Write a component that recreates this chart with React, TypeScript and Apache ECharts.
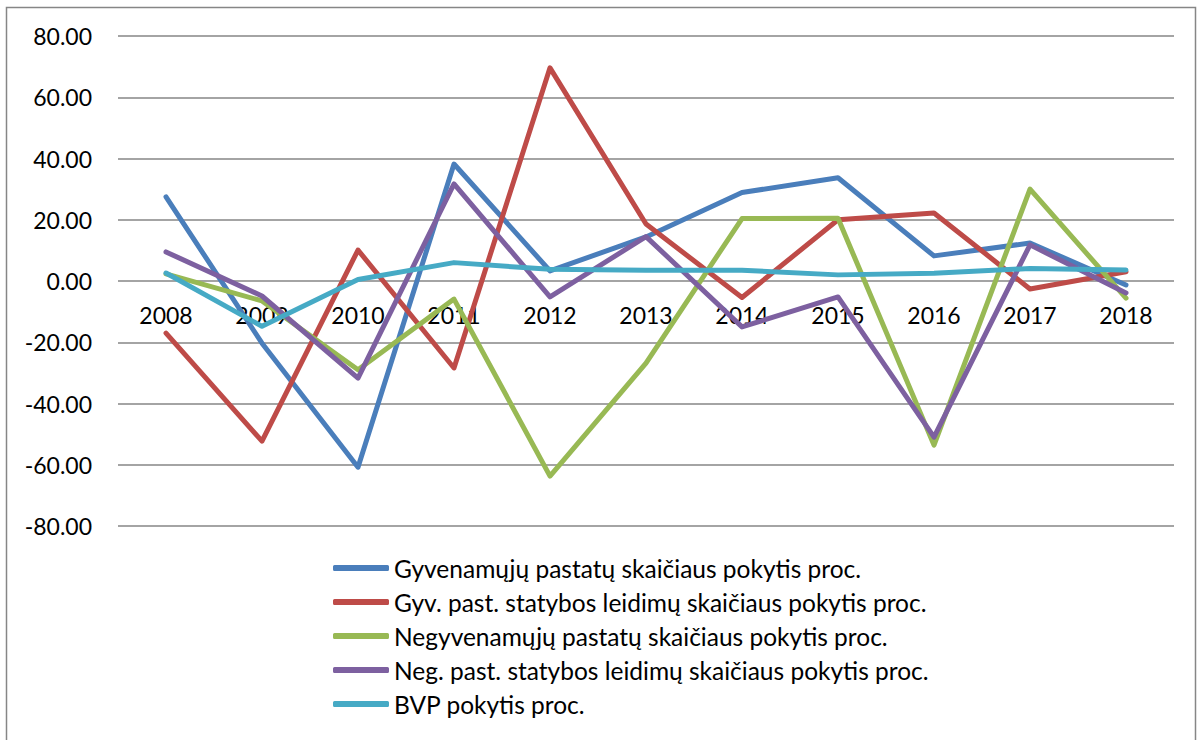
import React, { useEffect, useRef } from "react";
import * as echarts from "echarts";

const years = ["2008", "2009", "2010", "2011", "2012", "2013", "2014", "2015", "2016", "2017", "2018"];
const gyvPastatai = [27.5, -20.3, -60.8, 38.2, 3.3, 14.4, 28.9, 33.7, 8.2, 12.4, -1.3];
const gyvLeidimai = [-17.0, -52.3, 10.1, -28.4, 69.6, 18.6, -5.4, 20.0, 22.2, -2.6, 3.0];
const negPastatai = [2.3, -6.5, -29.0, -5.9, -63.7, -26.8, 20.4, 20.5, -53.6, 30.0, -5.6];
const negLeidimai = [9.5, -4.9, -31.7, 31.7, -5.2, 14.5, -15.0, -5.2, -51.0, 11.8, -3.9];
const bvp = [2.6, -14.8, 0.5, 6.0, 3.8, 3.5, 3.5, 2.0, 2.5, 4.1, 3.6];

const seriesNames = [
  "Gyvenamųjų pastatų skaičiaus pokytis proc.",
  "Gyv. past. statybos leidimų skaičiaus pokytis proc.",
  "Negyvenamųjų pastatų skaičiaus pokytis proc.",
  "Neg. past. statybos leidimų skaičiaus pokytis proc.",
  "BVP pokytis proc.",
];
const seriesData = [gyvPastatai, gyvLeidimai, negPastatai, negLeidimai, bvp];
const colors = ["#4A7EBB", "#BE4B48", "#98B954", "#7D60A0", "#46AAC5"];

const FONT = "Lato";
const GRID_TOP = 36;
const GRID_BOTTOM = 214;
const Y_MIN = -80;
const Y_MAX = 80;

export default function App() {
  const ref = useRef<HTMLDivElement>(null);
  useEffect(() => {
    document.body.style.margin = "0";
    const chart = echarts.init(ref.current!, null, { renderer: "svg" });
    const plotH = 740 - GRID_TOP - GRID_BOTTOM;
    const zeroOffset = -(plotH * (0 - Y_MIN)) / (Y_MAX - Y_MIN);
    chart.setOption({
      animation: false,
      backgroundColor: "#ffffff",
      color: colors,
      graphic: [
        {
          type: "rect",
          shape: { x: 6.5, y: 7.5, width: 1189, height: 760 },
          style: { fill: "none", stroke: "#868686", lineWidth: 1.5 },
          silent: true,
        },
      ],
      grid: { left: 118, right: 24, top: GRID_TOP, bottom: GRID_BOTTOM, containLabel: false },
      xAxis: {
        type: "category",
        data: years,
        boundaryGap: true,
        position: "bottom",
        offset: zeroOffset,
        axisLine: { show: false, onZero: false },
        axisTick: { show: false },
        axisLabel: { color: "#000", fontSize: 23, fontFamily: FONT, margin: 22 },
        splitLine: { show: false },
      },
      yAxis: {
        type: "value",
        min: Y_MIN,
        max: Y_MAX,
        interval: 20,
        axisLine: { show: false },
        axisTick: { show: false },
        axisLabel: {
          color: "#000",
          fontSize: 23,
          fontFamily: FONT,
          margin: 26,
          formatter: (v: number) => v.toFixed(2),
        },
        splitLine: { show: true, lineStyle: { color: "#868686", width: 1.5 } },
      },
      legend: {
        orient: "vertical",
        left: 333,
        top: 554,
        padding: 0,
        itemWidth: 56,
        itemHeight: 6,
        itemGap: 6,
        icon: "roundRect",
        textStyle: { color: "#000", fontSize: 24.5, fontFamily: FONT, lineHeight: 28 },
        data: seriesNames,
      },
      series: seriesNames.map((name, i) => ({
        name,
        type: "line",
        data: seriesData[i],
        symbol: "none",
        lineStyle: { width: 5, color: colors[i], cap: "round", join: "round" },
        itemStyle: { color: colors[i] },
      })),
    });
    return () => chart.dispose();
  }, []);
  return <div ref={ref} style={{ width: 1198, height: 740 }} />;
}
